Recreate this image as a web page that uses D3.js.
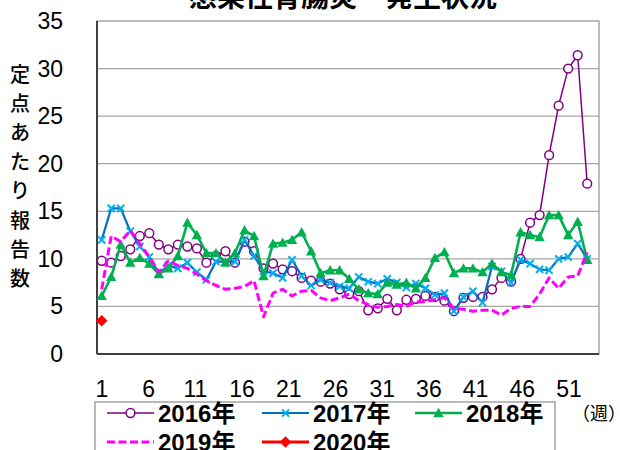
<!DOCTYPE html>
<html><head><meta charset="utf-8">
<script src="https://cdn.jsdelivr.net/npm/d3@7"></script>
<style>
html,body{margin:0;padding:0;background:#fff;}
svg{display:block;font-family:"Liberation Sans","Noto Sans CJK JP",sans-serif;}
</style></head>
<body>
<svg id="c" width="620" height="450"></svg>
<script>
const title = "感染性胃腸炎　発生状況";
const yAxisTitle = "定点あたり報告数";
const xUnit = "（週）";
const xTickWeeks = [1, 6, 11, 16, 21, 26, 31, 36, 41, 46, 51];
const yTicks = [0, 5, 10, 15, 20, 25, 30, 35];
const seriesNames = ["2016年", "2017年", "2018年", "2019年", "2020年"];

const v2016 = [9.8,9.6,10.3,11.0,12.4,12.7,11.5,11.0,11.5,11.3,11.1,9.6,10.3,10.8,9.6,11.8,10.8,9.0,9.5,8.9,8.7,8.0,7.7,7.6,7.4,6.8,6.3,6.6,4.6,4.8,5.8,4.6,5.7,5.8,6.1,6.0,5.6,4.5,5.9,6.0,6.0,6.8,8.0,7.6,10.0,13.8,14.6,20.9,26.1,30.0,31.4,17.9];
const v2017 = [12.0,15.3,15.3,12.9,11.3,10.2,8.5,9.3,9.0,9.6,8.6,7.8,9.7,9.7,9.7,12.0,10.3,8.7,8.5,8.0,9.9,8.2,7.2,7.8,7.5,7.1,6.9,8.1,7.6,7.4,7.9,7.5,7.0,7.4,6.9,6.2,6.4,4.5,6.0,6.6,5.4,9.2,8.7,7.5,9.9,9.5,8.9,8.8,10.0,10.2,11.6,10.0];
const v2018 = [6.1,8.1,11.5,9.6,10.1,9.5,8.4,9.0,10.3,13.8,12.5,10.6,10.6,9.6,10.6,13.0,12.4,8.2,11.6,11.7,12.0,12.8,10.8,8.5,8.8,8.8,7.9,6.8,6.4,6.3,7.5,7.3,7.5,6.9,8.0,10.1,10.7,8.5,9.0,9.0,8.6,9.5,8.6,8.3,12.8,12.5,12.3,14.6,14.6,12.5,13.9,9.9];
const v2019 = [6.8,12.4,11.8,13.0,11.6,10.2,8.6,9.8,9.3,9.0,8.4,7.7,7.2,6.8,6.9,7.1,7.7,3.9,6.4,6.8,6.1,6.6,6.7,5.9,5.6,5.9,6.3,5.6,5.2,4.9,5.0,5.2,5.0,5.5,5.5,5.7,5.9,4.8,4.7,4.5,4.6,4.6,4.1,4.8,5.0,5.0,6.3,8.0,6.9,8.1,8.2,10.7];
const v2020 = [3.5];

const W = 620, H = 450;
const plot = {left: 97, right: 599, top: 21, bottom: 354};
const svg = d3.select("#c");

const x = d3.scaleLinear().domain([1, 52]).range([101.7, 587.2]);
const xLab = d3.scaleLinear().domain([1, 51]).range([102, 569]);
const y = d3.scaleLinear().domain([0, 35]).range([plot.bottom, plot.top]);

// gridlines
svg.append("g").selectAll("line").data(yTicks.filter(t => t > 0 && t < 35)).join("line")
  .attr("x1", plot.left).attr("x2", plot.right)
  .attr("y1", d => y(d)).attr("y2", d => y(d))
  .attr("stroke", "#a6a6a6").attr("stroke-width", 1.3);
// plot border
svg.append("rect").attr("x", plot.left).attr("y", plot.top)
  .attr("width", plot.right - plot.left).attr("height", plot.bottom - plot.top)
  .attr("fill", "none").attr("stroke", "#9a9a9a").attr("stroke-width", 1.3);
// axes
svg.append("line").attr("x1", plot.left).attr("x2", plot.left).attr("y1", plot.top).attr("y2", plot.bottom)
  .attr("stroke", "#404040").attr("stroke-width", 2);
svg.append("line").attr("x1", plot.left).attr("x2", plot.right).attr("y1", plot.bottom).attr("y2", plot.bottom)
  .attr("stroke", "#404040").attr("stroke-width", 2);

// y tick labels
svg.append("g").selectAll("text").data(yTicks).join("text")
  .attr("x", 63).attr("y", d => y(d) + 8)
  .attr("text-anchor", "end").attr("font-size", 23).attr("fill", "#000")
  .text(d => d);
// x tick labels
svg.append("g").selectAll("text").data(xTickWeeks).join("text")
  .attr("x", d => xLab(d)).attr("y", 397)
  .attr("text-anchor", "middle").attr("font-size", 23).attr("fill", "#000")
  .text(d => d);

// y title (vertical stacked chars)
svg.append("g").selectAll("text").data(Array.from(yAxisTitle)).join("text")
  .attr("x", 20).attr("y", (d, i) => 82 + i * 29.1)
  .attr("text-anchor", "middle").attr("font-size", 20).attr("font-weight", 500)
  .attr("font-family", "Noto Sans CJK JP").attr("fill", "#000")
  .text(d => d);

// title (partly cut off at top)
svg.append("text").attr("x", 343).attr("y", 7).attr("text-anchor", "middle")
  .attr("font-size", 28).attr("font-family", "Noto Sans CJK JP").attr("font-weight", "bold")
  .attr("fill", "#000").text(title);

const styles = [
  {color: "#800080", width: 1.5, dash: null, marker: "circle"},
  {color: "#0070C0", width: 2.2, dash: null, marker: "x", mcolor: "#00B0F0"},
  {color: "#00B050", width: 2.6, dash: null, marker: "triangle"},
  {color: "#FF00FF", width: 3, dash: "8,3.5", marker: null},
  {color: "#FF0000", width: 3, dash: null, marker: "diamond"}
];
const allVals = [v2016, v2017, v2018, v2019, v2020];

function drawMarker(g, type, st, cx, cy, scale) {
  scale = scale || 1;
  if (type === "circle") {
    g.append("circle").attr("cx", cx).attr("cy", cy).attr("r", 4.4 * scale)
      .attr("fill", "#fff").attr("stroke", st.color).attr("stroke-width", 1.5);
  } else if (type === "x") {
    const s = 3.6 * scale;
    g.append("path").attr("d", `M${cx-s},${cy-s}L${cx+s},${cy+s}M${cx-s},${cy+s}L${cx+s},${cy-s}`)
      .attr("stroke", st.mcolor).attr("stroke-width", 2);
  } else if (type === "triangle") {
    const s = 5.2 * scale;
    g.append("path").attr("d", `M${cx},${cy-s}L${cx+s},${cy+s*0.8}L${cx-s},${cy+s*0.8}Z`)
      .attr("fill", st.color);
  } else if (type === "diamond") {
    const s = 5.8 * scale;
    g.append("path").attr("d", `M${cx},${cy-s}L${cx+s},${cy}L${cx},${cy+s}L${cx-s},${cy}Z`)
      .attr("fill", st.color);
  }
}

const line = d3.line().x((d, i) => x(i + 1)).y(d => y(d));
allVals.forEach((vals, k) => {
  const st = styles[k];
  const g = svg.append("g");
  g.append("path").datum(vals).attr("d", line).attr("fill", "none")
    .attr("stroke", st.color).attr("stroke-width", st.width)
    .attr("stroke-dasharray", st.dash).attr("stroke-linejoin", "round");
  if (st.marker) vals.forEach((v, i) => drawMarker(g, st.marker, st, x(i + 1), y(v)));
});

// legend
const lg = svg.append("g");
lg.append("rect").attr("x", 95).attr("y", 402).attr("width", 460).attr("height", 60)
  .attr("fill", "#fff").attr("stroke", "#8c8c8c").attr("stroke-width", 1.2);
const legPos = [[107, 413], [262, 413], [415, 413], [107, 442], [262, 442]];
seriesNames.forEach((name, k) => {
  const st = styles[k];
  const [lx, ly] = legPos[k];
  lg.append("line").attr("x1", lx).attr("x2", lx + 47).attr("y1", ly).attr("y2", ly)
    .attr("stroke", st.color).attr("stroke-width", st.width).attr("stroke-dasharray", st.dash);
  if (st.marker) drawMarker(lg, st.marker, st, lx + 23.5, ly);
  lg.append("text").attr("x", lx + 51).attr("y", ly + 9).attr("font-size", 24)
    .attr("font-weight", "bold").attr("fill", "#000").text(name);
});
svg.append("text").attr("x", 572).attr("y", 420).attr("font-size", 18)
  .attr("font-family", "Noto Sans CJK JP").attr("fill", "#000").text(xUnit);
</script>
</body></html>
